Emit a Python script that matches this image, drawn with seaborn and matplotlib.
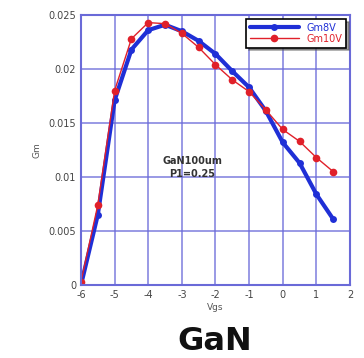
import numpy as np
import pandas as pd
import matplotlib
matplotlib.use("Agg")
import matplotlib.pyplot as plt
import seaborn as sns

vgs = [-6, -5.5, -5, -4.5, -4, -3.5, -3, -2.5, -2, -1.5, -1, -0.5, 0, 0.5, 1, 1.5]
gm8v = [0.0, 0.0065, 0.0171, 0.0218, 0.0236, 0.0241, 0.0235, 0.0226, 0.0214, 0.0198,
        0.0183, 0.0161, 0.0132, 0.0113, 0.0084, 0.0061]
gm10v = [0.0003, 0.0074, 0.0180, 0.0228, 0.0243, 0.0242, 0.0233, 0.0220, 0.0204, 0.0190,
         0.0179, 0.0162, 0.0144, 0.0133, 0.0118, 0.0105]
xticks = [-6, -5, -4, -3, -2, -1, 0, 1, 2]
yticks = [0, 0.005, 0.01, 0.015, 0.02, 0.025]
ytick_labels = ["0", "0.005", "0.01", "0.015", "0.02", "0.025"]

df = pd.DataFrame({"Vgs": vgs * 2, "Gm": gm8v + gm10v,
                   "series": ["Gm8V"] * len(vgs) + ["Gm10V"] * len(vgs)})

sns.set_style("white")
plt.rcParams['font.family'] = ['DejaVu Sans']

fig = plt.figure(figsize=(3.64, 3.58), dpi=100)
ax = fig.add_axes([0.2225, 0.204, 0.739, 0.754])

blue = "#1f2fd6"
red = "#e0202a"
sns.lineplot(data=df[df.series == "Gm8V"], x="Vgs", y="Gm", ax=ax, color=blue,
             linewidth=3, marker="o", markersize=5, markeredgewidth=0, label="Gm8V")
sns.lineplot(data=df[df.series == "Gm10V"], x="Vgs", y="Gm", ax=ax, color=red,
             linewidth=1, marker="o", markersize=5.5, markeredgewidth=0, label="Gm10V")

ax.set_xlim(-6, 2)
ax.set_ylim(0, 0.025)
ax.set_xticks(xticks)
ax.set_xticklabels([str(t) for t in xticks])
ax.set_yticks(yticks)
ax.set_yticklabels(ytick_labels)
ax.grid(True, color="#6a6ad8", linewidth=1.2, alpha=0.8)
for s in ax.spines.values():
    s.set_color("#6a6ad8")
    s.set_linewidth(1.5)
ax.tick_params(labelsize=7, colors="#444444", length=3, direction="in")
ax.tick_params(axis="both", color="#3a3ad0")
ax.set_xlabel("Vgs", fontsize=6.5, color="#555555", labelpad=2)
ax.set_ylabel("Gm", fontsize=6.5, color="#555555", labelpad=5)

ax.text(-2.7, 0.0109, "GaN100um\nP1=0.25", ha="center", va="center", fontsize=7,
        color="#333333", fontweight="bold", linespacing=1.4)

leg = ax.legend(loc="upper right", fontsize=7, frameon=True, fancybox=False,
                shadow=True, labelcolor="linecolor", handlelength=5,
                borderaxespad=0.4, borderpad=0.4, labelspacing=0.1)
leg.get_frame().set_edgecolor("black")
leg.get_frame().set_linewidth(1.2)

fig.text(0.591, 0.047, "GaN", ha="center", va="center", fontsize=23,
         fontweight="bold", color="#111111")

fig.savefig("out.png", dpi=100)
